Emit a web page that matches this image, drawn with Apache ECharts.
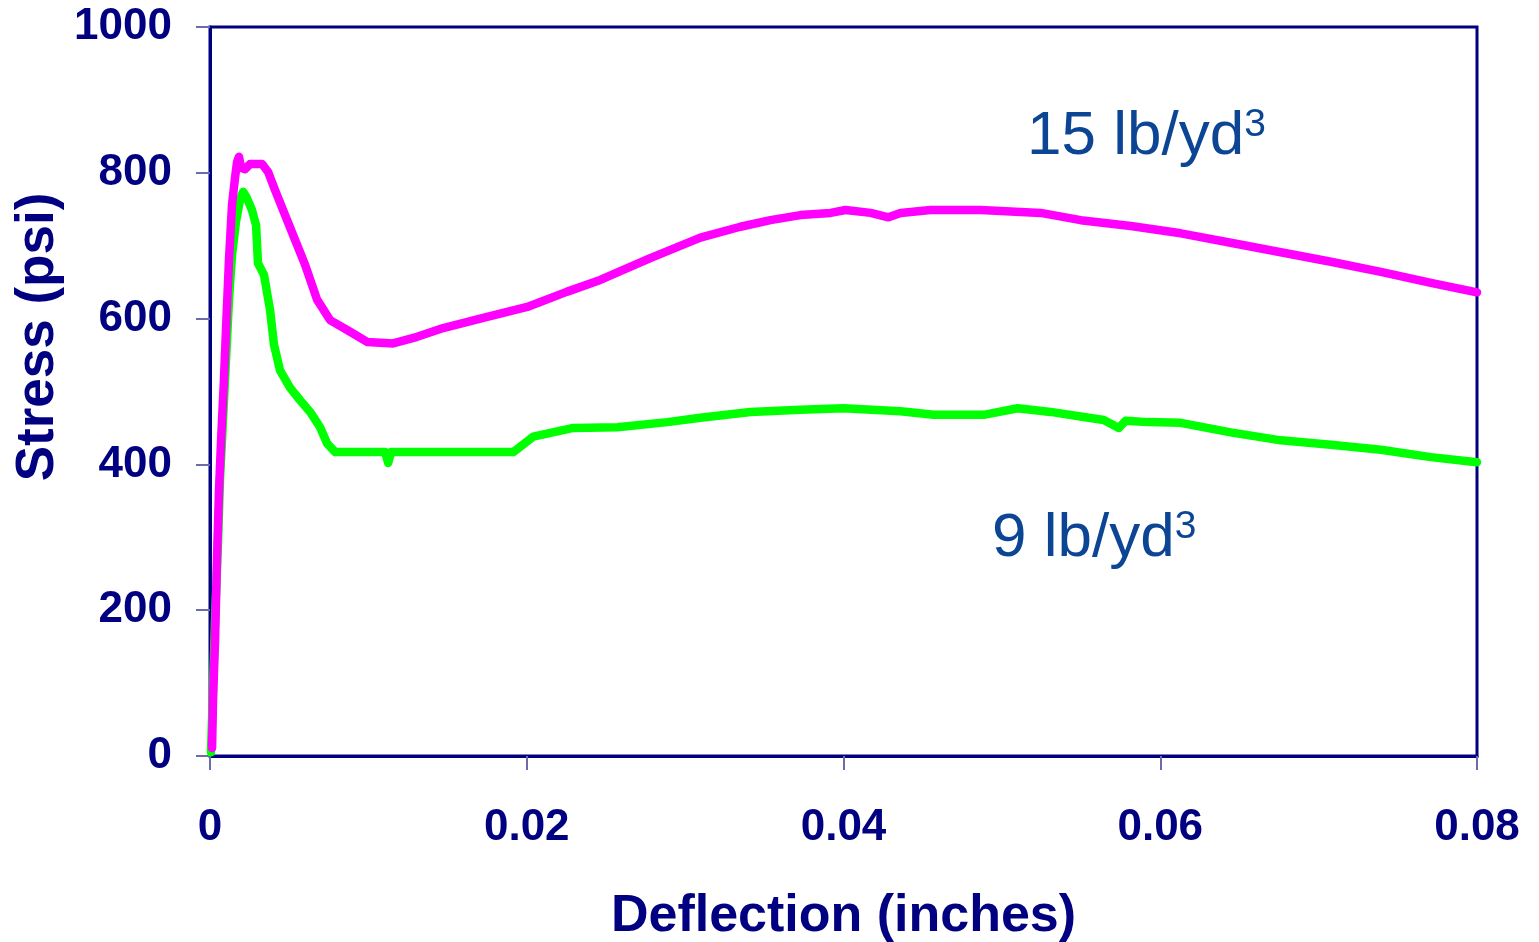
<!DOCTYPE html>
<html>
<head>
<meta charset="utf-8">
<script src="https://cdn.jsdelivr.net/npm/echarts@6/dist/echarts.min.js"></script>
<style>
html,body{margin:0;padding:0;background:#fff;}
#chart{width:1539px;height:942px;}
</style>
</head>
<body>
<div id="chart"></div>
<script>
// Deflection (inches) / Stress (psi) pairs
const deflection15 = [0.00013,0.00019,0.00032,0.00044,0.00057,0.00070,0.00088,0.00101,0.00120,0.00139,0.00158,0.00171,0.00183,0.00196,0.00221,0.00253,0.00329,0.00367,0.00411,0.00474,0.00537,0.00600,0.00676,0.00758,0.00885,0.00992,0.01156,0.01308,0.01472,0.01725,0.02003,0.02256,0.02464,0.02780,0.03096,0.03349,0.03539,0.03728,0.03918,0.04013,0.04171,0.04284,0.04360,0.04550,0.04866,0.05245,0.05498,0.05814,0.06130,0.06445,0.06761,0.07077,0.07393,0.07709,0.08];
const stress15 = [11,77,159,269,365,433,516,585,681,756,793,815,822,807,805,812,812,801,776,742,708,674,626,598,582,568,566,575,587,601,616,637,653,683,711,726,735,742,745,749,745,739,745,749,749,745,735,727,717,704,691,678,664,649,636];

const deflection9 = [0.00006,0.00019,0.00032,0.00051,0.00063,0.00082,0.00101,0.00120,0.00139,0.00164,0.00190,0.00209,0.00234,0.00265,0.00291,0.00303,0.00341,0.00379,0.00404,0.00442,0.00506,0.00569,0.00632,0.00695,0.00739,0.00790,0.01106,0.01125,0.01144,0.01915,0.02041,0.02294,0.02572,0.02888,0.03096,0.03412,0.03728,0.04000,0.04360,0.04569,0.04885,0.05100,0.05308,0.05517,0.05643,0.05738,0.05782,0.05921,0.06130,0.06445,0.06761,0.07077,0.07393,0.07709,0.08];
const stress9 = [5,91,187,296,379,461,543,626,687,733,763,774,765,749,728,676,660,612,564,529,505,488,472,451,429,417,417,402,417,417,438,450,451,458,464,472,475,477,473,468,468,477,472,465,461,450,460,458,457,444,433,427,420,410,403];

const xTicks = [0, 0.02, 0.04, 0.06, 0.08];
const yTicks = [0, 200, 400, 600, 800, 1000];
const seriesNames = ['9 lb/yd³', '15 lb/yd³'];

const navy = '#000080';
const tickColor = '#6b6bad';
const annColor = '#0b4594';
const font = '"Liberation Sans", Arial, sans-serif';

function pairs(xs, ys){ return xs.map((x,i)=>[x, ys[i]]); }

const chart = echarts.init(document.getElementById('chart'));
chart.setOption({
  animation: false,
  backgroundColor: '#fff',
  grid: {left: 210, top: 27, right: 62, bottom: 186, containLabel: false, outerBoundsMode: 'none',
    show: true, borderColor: navy, borderWidth: 3, backgroundColor: 'transparent'},
  xAxis: {
    type: 'value', min: xTicks[0], max: xTicks[xTicks.length-1], interval: 0.02,
    name: 'Deflection (inches)', nameLocation: 'middle', nameGap: 135,
    nameTextStyle: {color: navy, fontFamily: font, fontWeight: 'bold', fontSize: 52},
    axisLine: {show: true, onZero: false, lineStyle: {color: navy, width: 3}},
    axisTick: {show: true, length: 14, lineStyle: {color: tickColor, width: 2}},
    axisLabel: {color: navy, fontFamily: font, fontWeight: 'bold', fontSize: 44, margin: 50,
      formatter: v => String(+v.toFixed(2))},
    splitLine: {show: false}
  },
  yAxis: {
    type: 'value', min: yTicks[0], max: yTicks[yTicks.length-1], interval: 200,
    axisLine: {show: true, onZero: false, lineStyle: {color: navy, width: 3}},
    axisTick: {show: true, length: 14, lineStyle: {color: tickColor, width: 2}},
    axisLabel: {color: navy, fontFamily: font, fontWeight: 'bold', fontSize: 44, margin: 38,
      formatter: v => String(v)},
    splitLine: {show: false}
  },
  series: [
    {name: seriesNames[0], type: 'line', data: pairs(deflection9, stress9), showSymbol: false, smooth: false,
     lineStyle: {color: '#00ff00', width: 8.5, join: 'round', cap: 'round'}, itemStyle: {color: '#00ff00'}},
    {name: seriesNames[1], type: 'line', data: pairs(deflection15, stress15), showSymbol: false, smooth: false,
     lineStyle: {color: '#ff00ff', width: 8.5, join: 'round', cap: 'round'}, itemStyle: {color: '#ff00ff'}}
  ],
  graphic: [
    {type: 'text', x: 38, y: 337, rotation: Math.PI/2,
     style: {text: 'Stress (psi)', fill: navy, font: 'bold 53px ' + font, textAlign: 'center', textVerticalAlign: 'middle'}},
    {type: 'text', x: 1027, y: 137,
     style: {text: '{a|15 lb/yd}{b|3}', textVerticalAlign: 'middle', textAlign: 'left',
       rich: {a: {fontSize: 62, fontFamily: font, fill: annColor, color: annColor, lineHeight: 62},
              b: {fontSize: 39, fontFamily: font, fill: annColor, color: annColor, verticalAlign: 'top', lineHeight: 39}}}},
    {type: 'text', x: 992, y: 539,
     style: {text: '{a|9 lb/yd}{b|3}', textVerticalAlign: 'middle', textAlign: 'left',
       rich: {a: {fontSize: 62, fontFamily: font, fill: annColor, color: annColor, lineHeight: 62},
              b: {fontSize: 39, fontFamily: font, fill: annColor, color: annColor, verticalAlign: 'top', lineHeight: 39}}}}
  ]
});
</script>
</body>
</html>
